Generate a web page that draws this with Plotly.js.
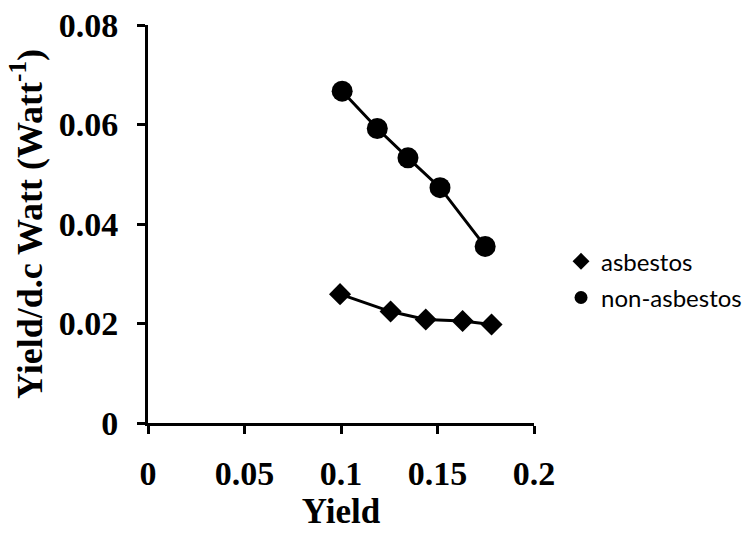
<!DOCTYPE html>
<html>
<head>
<meta charset="utf-8">
<script src="https://cdn.plot.ly/plotly-3.0.1.min.js"></script>
<style>html,body{margin:0;padding:0;background:#fff;}#chart{width:752px;height:540px;}</style>
</head>
<body>
<div id="chart"></div>
<script>
const seriesNames = ["asbestos", "non-asbestos"];
const asbestosX = [0.0995, 0.1257, 0.1439, 0.1630, 0.1780];
const asbestosY = [0.0259, 0.0224, 0.0208, 0.0205, 0.0198];
const nonAsbestosX = [0.1006, 0.1188, 0.1347, 0.1513, 0.1747];
const nonAsbestosY = [0.0667, 0.0592, 0.0533, 0.0473, 0.0355];
const xTicks = [0, 0.05, 0.1, 0.15, 0.2];
const xTickText = ["0", "0.05", "0.1", "0.15", "0.2"];
const yTicks = [0, 0.02, 0.04, 0.06, 0.08];
const yTickText = ["0", "0.02", "0.04", "0.06", "0.08"];

const serif = "Liberation Serif";

const traces = [
  {
    x: asbestosX, y: asbestosY, name: seriesNames[0], showlegend: false,
    type: "scatter", mode: "lines+markers",
    line: {color: "#000", width: 3},
    marker: {symbol: "diamond", size: 17, color: "#000"}
  },
  {
    x: nonAsbestosX, y: nonAsbestosY, name: seriesNames[1], showlegend: false,
    type: "scatter", mode: "lines+markers",
    line: {color: "#000", width: 3},
    marker: {symbol: "circle", size: 21, color: "#000"}
  },
  {
    x: [null], y: [null], name: seriesNames[0], legendgroup: "a",
    type: "scatter", mode: "markers",
    marker: {symbol: "diamond", size: 13, color: "#000"}
  },
  {
    x: [null], y: [null], name: seriesNames[1], legendgroup: "b",
    type: "scatter", mode: "markers",
    marker: {symbol: "circle", size: 13, color: "#000"}
  }
];

const layout = {
  width: 752, height: 540,
  margin: {l: 148, r: 218, t: 25, b: 117, autoexpand: false},
  paper_bgcolor: "#fff", plot_bgcolor: "#fff",
  showlegend: true,
  legend: {
    x: 1.07, y: 0.36, xanchor: "left", yanchor: "middle",
    traceorder: "grouped", tracegroupgap: 2,
    font: {family: "Lato, 'Noto Sans', sans-serif", size: 24, color: "#000"},
    itemwidth: 30, bgcolor: "rgba(0,0,0,0)"
  },
  xaxis: {
    range: [0, 0.2], tickvals: xTicks, ticktext: xTickText,
    showgrid: false, zeroline: false, showline: true, linecolor: "#000", linewidth: 3,
    ticks: "outside", ticklen: 8, tickwidth: 3, tickcolor: "#000",
    tickfont: {family: serif, size: 34, color: "#000", weight: "bold"},
    ticklabelstandoff: 10,
    title: {text: "<b>Yield</b>", font: {family: serif, size: 35, color: "#000", weight: "bold"}, standoff: 6}
  },
  yaxis: {
    range: [0, 0.08], tickvals: yTicks, ticktext: yTickText,
    showgrid: false, zeroline: false, showline: true, linecolor: "#000", linewidth: 3,
    ticks: "outside", ticklen: 8, tickwidth: 3, tickcolor: "#000",
    tickfont: {family: serif, size: 34, color: "#000", weight: "bold"},
    ticklabelstandoff: 12,
    title: {text: "<b>Yield/d.c Watt (Watt<sup>-1</sup>)</b>", font: {family: serif, size: 36, color: "#000", weight: "bold"}, standoff: 6}
  }
};

Plotly.newPlot("chart", traces, layout, {displayModeBar: false, staticPlot: true});
</script>
</body>
</html>
